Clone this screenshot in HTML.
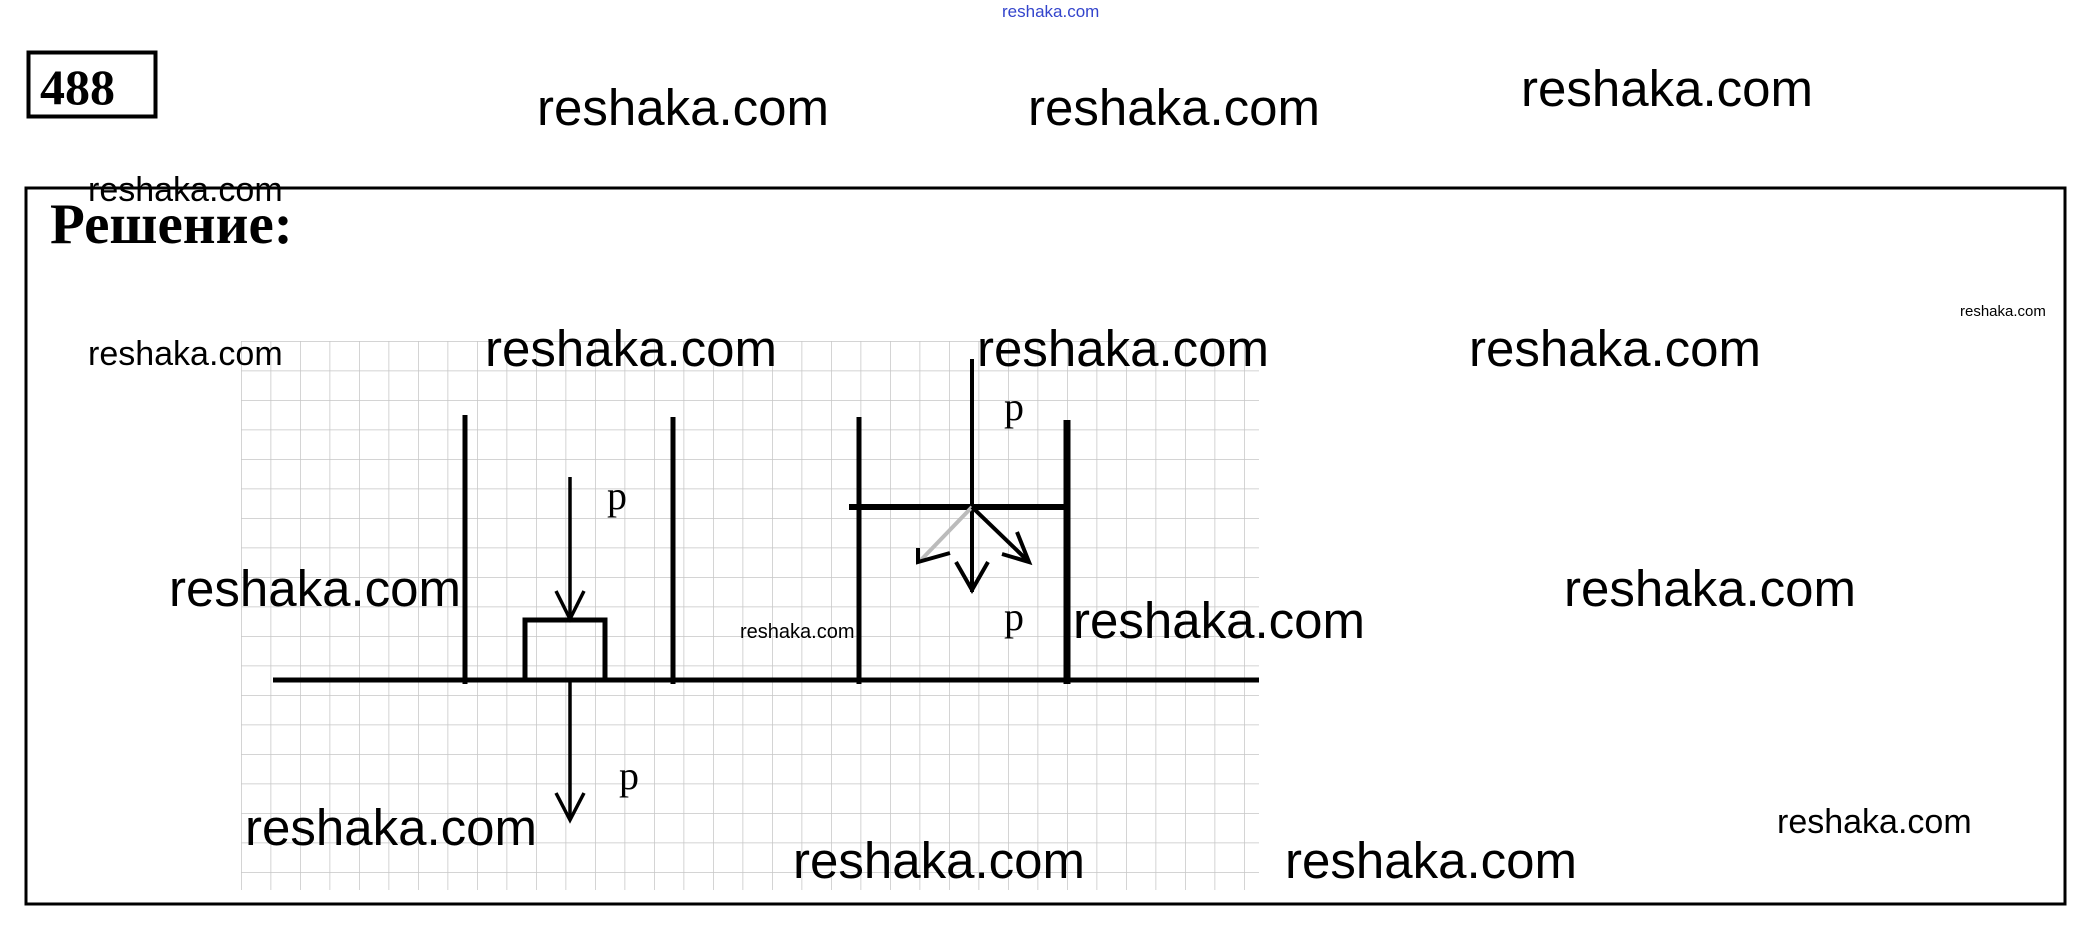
<!DOCTYPE html>
<html><head><meta charset="utf-8"><style>
html,body{margin:0;padding:0;background:#fff;}
svg{display:block;}
.w{font-family:"Liberation Sans",sans-serif;fill:#000;}
.s{font-family:"Liberation Serif",serif;fill:#000;}
</style></head><body>
<svg width="2099" height="937" viewBox="0 0 2099 937" xmlns="http://www.w3.org/2000/svg">
<defs>
<pattern id="g" x="241" y="341" width="29.5" height="29.5" patternUnits="userSpaceOnUse">
<path d="M0 0V29.5M0 0H29.5" stroke="#c6c6c6" stroke-width="1.5" fill="none"/>
</pattern>
</defs>
<rect x="241" y="341" width="1018" height="549" fill="url(#g)"/>
<rect x="28.5" y="52.5" width="127" height="64" fill="none" stroke="#000" stroke-width="4"/>
<text x="40" y="104" class="s" font-size="50" font-weight="bold">488</text>
<rect x="26" y="188" width="2039" height="716" fill="none" stroke="#000" stroke-width="3"/>
<text x="50" y="243" class="s" font-size="57" font-weight="bold">Решение:</text>
<g stroke="#000" fill="none" stroke-linecap="butt">
<line x1="273" y1="680" x2="1259" y2="680" stroke-width="5"/>
<line x1="465" y1="415" x2="465" y2="684" stroke-width="5"/>
<line x1="673" y1="417" x2="673" y2="684" stroke-width="5"/>
<line x1="859" y1="417" x2="859" y2="684" stroke-width="5"/>
<line x1="1067" y1="420" x2="1067" y2="684" stroke-width="7"/>
<rect x="525" y="620" width="80" height="60" stroke-width="5"/>
<line x1="570" y1="477" x2="570" y2="619" stroke-width="3.5"/>
<polyline points="556,591 570,619 584,591" stroke-width="3.5"/>
<line x1="570" y1="680" x2="570" y2="820" stroke-width="3.5"/>
<polyline points="556,793 570,820 584,793" stroke-width="3.5"/>
<line x1="849" y1="507" x2="1067" y2="507" stroke-width="6"/>
<line x1="972" y1="359" x2="972" y2="592" stroke-width="4"/>
<polyline points="956,562 972,590 988,562" stroke-width="4"/>
<line x1="972" y1="507" x2="920" y2="561" stroke="#bbb" stroke-width="4"/>
<polyline points="918,548 918,562 950,553" stroke-width="4"/>
<line x1="972" y1="507" x2="1028" y2="561" stroke-width="4"/>
<polyline points="1017,532 1029,562 1002,554" stroke-width="4"/>
</g>
<text x="607" y="509" class="s" font-size="40">p</text>
<text x="619" y="789" class="s" font-size="40">p</text>
<text x="1004" y="420" class="s" font-size="40">p</text>
<text x="1004" y="630" class="s" font-size="40">p</text>
<text x="1002" y="17" class="w" font-size="17" style="fill:#3344cc">reshaka.com</text>
<text x="537" y="125" class="w" font-size="51">reshaka.com</text>
<text x="1028" y="125" class="w" font-size="51">reshaka.com</text>
<text x="1521" y="106" class="w" font-size="51">reshaka.com</text>
<text x="88" y="201" class="w" font-size="34">reshaka.com</text>
<text x="88" y="365" class="w" font-size="34">reshaka.com</text>
<text x="485" y="366" class="w" font-size="51">reshaka.com</text>
<text x="977" y="366" class="w" font-size="51">reshaka.com</text>
<text x="1469" y="366" class="w" font-size="51">reshaka.com</text>
<text x="1960" y="316" class="w" font-size="15">reshaka.com</text>
<text x="169" y="606" class="w" font-size="51">reshaka.com</text>
<text x="1564" y="606" class="w" font-size="51">reshaka.com</text>
<text x="1073" y="638" class="w" font-size="51">reshaka.com</text>
<text x="740" y="638" class="w" font-size="20">reshaka.com</text>
<text x="245" y="845" class="w" font-size="51">reshaka.com</text>
<text x="793" y="878" class="w" font-size="51">reshaka.com</text>
<text x="1285" y="878" class="w" font-size="51">reshaka.com</text>
<text x="1777" y="833" class="w" font-size="34">reshaka.com</text>
</svg>
</body></html>
